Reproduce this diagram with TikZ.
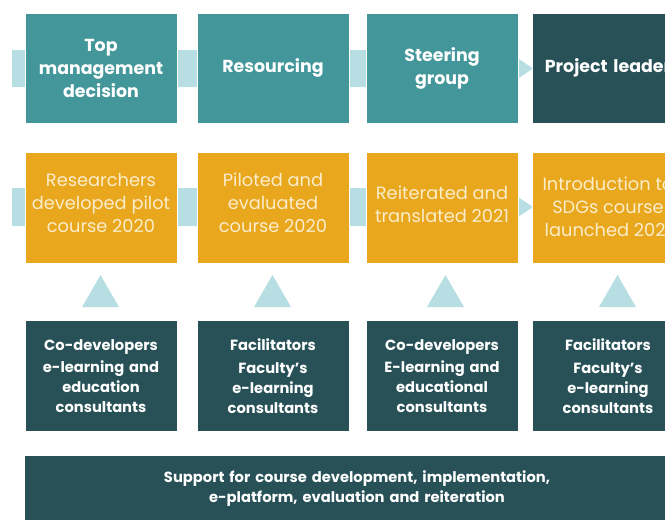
\documentclass[tikz,border=0pt]{standalone}
\usepackage{fontspec}
\setmainfont{Poppins}
\definecolor{cTeal}{HTML}{43969A}
\definecolor{cDark}{HTML}{275157}
\definecolor{cOrange}{HTML}{E8A71C}
\definecolor{cLight}{HTML}{B7DEE3}
\definecolor{cCream}{HTML}{FBEDCC}
\tikzset{
  box/.style={minimum width=152pt, minimum height=111pt, inner sep=0pt, draw=white, line width=0.6pt, align=center, text width=150pt},
  topbox/.style={box, fill=cTeal, text=white, font=\fontsize{17.4}{23}\selectfont\bfseries},
  midbox/.style={box, fill=cOrange},
  midtext/.style={text=cCream, align=center, inner sep=0pt, font=\fontsize{17.8}{23}\selectfont},
  lowbox/.style={box, fill=cDark, text=white, font=\fontsize{14.7}{19.8}\selectfont\bfseries},
  band/.style={fill=cLight},
  uptri/.style={fill=cLight}
}
\begin{document}
\begin{tikzpicture}[x=1pt,y=-1pt]
\useasboundingbox (0,0) rectangle (665,520);
\clip (0,0) rectangle (665,520);
% bands
\fill[band] (12,50) -- (491,50) -- (491,40) -- (533,68.5) -- (491,97) -- (491,87) -- (12,87) -- cycle;
\fill[band] (12,188) -- (491,188) -- (491,179) -- (533,207) -- (491,235) -- (491,226) -- (12,226) -- cycle;
% top row
\node[topbox, minimum height=110pt] (t1) at (101,68.5) {Top\\management\\decision};
\node[topbox, minimum height=110pt] (t2) at (273,68) {Resourcing};
\node[topbox, minimum height=110pt] (t3) at (442,68.5) {Steering\\group};
\node[topbox, minimum height=110pt, fill=cDark] (t4) at (608,68) {Project leader};
% middle row
\node[midbox] (m1) at (101,207.5) {};
\node[midbox] (m2) at (273,207.5) {};
\node[midbox] (m3) at (442,207.5) {};
\node[midbox] (m4) at (608,207.5) {};
\node[midtext] (m1t) at (101,203) {Researchers\\developed pilot\\course 2020};
\node[midtext] (m2t) at (273,203) {Piloted and\\evaluated\\course 2020};
\node[midtext] (m3t) at (442,204) {Reiterated and\\translated 2021};
\node[midtext] (m4t) at (608,207) {Introduction to\\SDGs course\\launched 2021};
% up triangles
\fill[uptri] (82,307) -- (119,307) -- (100.5,275) -- cycle;
\fill[uptri] (254,307) -- (291,307) -- (272.5,275) -- cycle;
\fill[uptri] (427,307) -- (464,307) -- (445.5,275) -- cycle;
\fill[uptri] (599,307) -- (636,307) -- (617.5,275) -- cycle;
% bottom row
\node[lowbox] (b1) at (101,376) {Co-developers\\[3pt]e-learning and\\education\\consultants};
\node[lowbox] (b2) at (273,376) {Facilitators\\[3pt]Faculty’s\\e-learning\\consultants};
\node[lowbox] (b3) at (442,376) {Co-developers\\[3pt]E-learning and\\educational\\consultants};
\node[lowbox] (b4) at (608,376) {Facilitators\\[3pt]Faculty’s\\e-learning\\consultants};
% support
\node[lowbox, minimum width=666pt, minimum height=66pt, text width=600pt] (s) at (357,488.5) {Support for course development, implementation,\\e-platform, evaluation and reiteration};
\end{tikzpicture}
\end{document}
